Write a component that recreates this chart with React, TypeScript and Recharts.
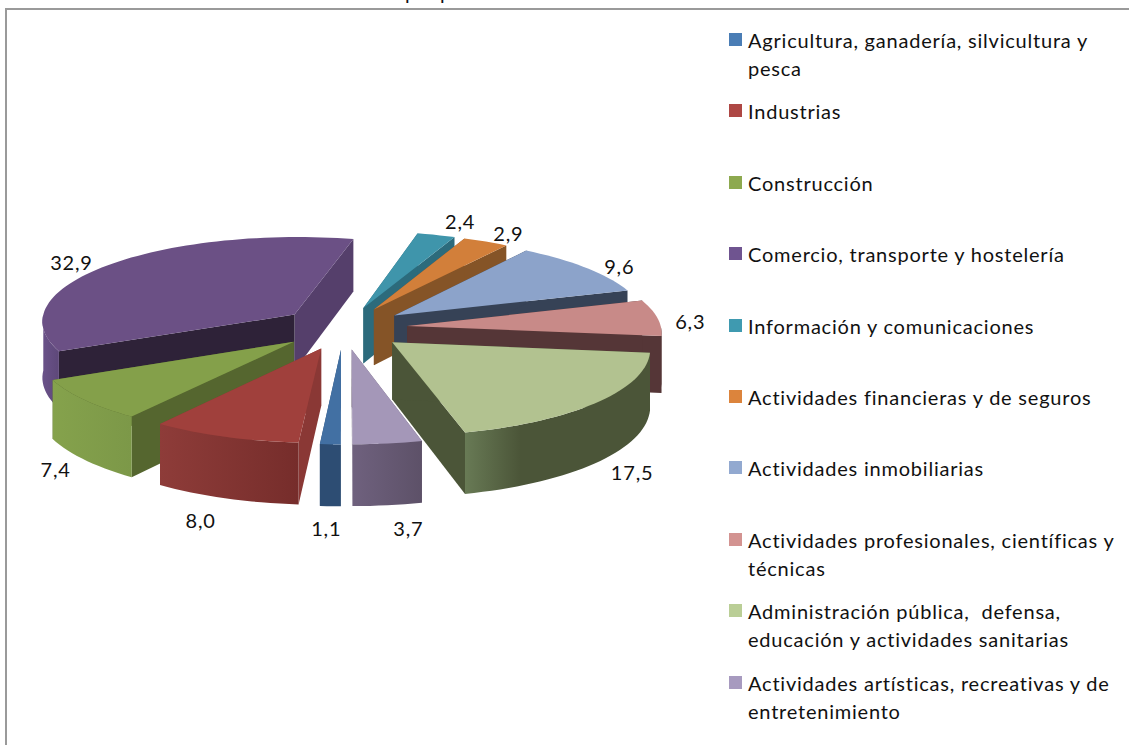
import { PieChart, Pie, Legend } from 'recharts';

// Share of each sector, legend order
const categories = [
  'Agricultura, ganadería, silvicultura y\npesca',
  'Industrias',
  'Construcción',
  'Comercio, transporte y hostelería',
  'Información y comunicaciones',
  'Actividades financieras y de seguros',
  'Actividades inmobiliarias',
  'Actividades profesionales, científicas y\ntécnicas',
  'Administración pública,  defensa,\neducación y actividades sanitarias',
  'Actividades artísticas, recreativas y de\nentretenimiento',
];
const shares = [1.1, 8.0, 7.4, 32.9, 2.4, 2.9, 9.6, 6.3, 17.5, 3.7];

// Colours per slice: top face, radial walls, outer wall gradient, legend swatch
const topColors = ['#4270A3', '#A0403C', '#84A04A', '#6B5085', '#3F95AB', '#D27F3A', '#8CA3CA', '#C88A88', '#B2C290', '#A497B8'];
const wallColors = ['#2D4D73', '#8A3835', '#55662F', '#2E2238', '#2C6B7C', '#855427', '#364256', '#553637', '#4B5538', '#6C5F78'];
const endWallColors = ['#2D4D73', '#8A3835', '#55662F', '#553F6B', '#2C6B7C', '#855427', '#364256', '#553637', '#4B5538', '#6C5F78'];
const arcFrom = ['#2D4D73', '#8E3C39', '#85A24C', '#6A5289', '#2C6B7C', '#855427', '#364256', '#553637', '#687A55', '#6F617E'];
const arcTo = ['#2D4D73', '#762D2B', '#7C9848', '#5E4879', '#2C6B7C', '#855427', '#364256', '#553637', '#4B5538', '#5D5168'];
const legendColors = ['#4A7DB5', '#AE4744', '#8DA94F', '#6F5490', '#3F9AB0', '#DC843C', '#92A9D0', '#D39391', '#BACE96', '#A79ABF'];

// Back-to-front painting order (indices into categories)
const drawOrder = [3, 4, 5, 6, 7, 8, 2, 1, 9, 0];

// Hand nudges for the value labels, legend order
const labelNudges = [
  [-3, 66], [-14, 67], [-7, 56], [-21, -5], [17, -14], [12, -9], [15, -4], [8, -3], [13, 56], [17, 67],
];

const pieData = categories.map((name, i) => ({ name, value: shares[i] }));

// Projection of the tilted pie
const CX = 343.5;
const CY = 328;
const RADIUS = 254;
const TILT = 0.334;
const PERSPECTIVE = 0.07;
const EXPLODE = 64;
const DEPTH = 56.5;

const rad = (d: number) => (d * Math.PI) / 180;

const project = (x: number, z: number, drop = 0) => {
  const s = 1 / (1 + (PERSPECTIVE * z) / RADIUS);
  return [CX + x * s, CY - z * TILT * s + drop * s];
};

// theta: clockwise from 12 o'clock, r: distance from the slice apex
const slicePoint = (mid: number, theta: number, r: number, drop = 0) =>
  project(
    EXPLODE * Math.sin(rad(mid)) + r * Math.sin(rad(theta)),
    EXPLODE * Math.cos(rad(mid)) + r * Math.cos(rad(theta)),
    drop,
  );

const toPath = (pts: number[][]) =>
  'M' + pts.map((p) => `${p[0].toFixed(1)},${p[1].toFixed(1)}`).join('L') + 'Z';

const arcPoints = (mid: number, from: number, to: number, r: number, drop = 0) => {
  const pts: number[][] = [];
  const steps = Math.max(2, Math.ceil((to - from) / 2));
  for (let i = 0; i <= steps; i++) {
    pts.push(slicePoint(mid, from + ((to - from) * i) / steps, r, drop));
  }
  return pts;
};

const Slice3D = (props: any, idx: number) => {
  const { startAngle, endAngle, outerRadius, index } = props;
  if (index !== idx) return <g />;
  // recharts angles run counter-clockwise from 3 o'clock
  const t0 = 90 - startAngle + 360;
  const t1 = 90 - endAngle + 360;
  const mid = (t0 + t1) / 2;
  const r = outerRadius;
  const apexTop = slicePoint(mid, 0, 0);
  const apexBot = slicePoint(mid, 0, 0, DEPTH);
  const wall = (t: number, color: string) => (
    <path
      d={toPath([apexTop, slicePoint(mid, t, r), slicePoint(mid, t, r, DEPTH), apexBot])}
      fill={color}
    />
  );
  // only the part of the rim that faces the viewer
  const rim = [];
  for (const shift of [0, 360]) {
    const a = Math.max(t0 + shift, 450);
    const b = Math.min(t1 + shift, 630);
    if (b > a) rim.push([a, b]);
  }
  return (
    <g>
      <defs>
        <linearGradient id={`rim-${idx}`} x1="0" y1="0" x2="1" y2="0">
          <stop offset="0%" stopColor={arcFrom[idx]} />
          <stop offset={idx === 8 ? '30%' : '100%'} stopColor={arcTo[idx]} />
        </linearGradient>
      </defs>
      {wall(t1, endWallColors[idx])}
      {wall(t0, wallColors[idx])}
      {rim.map(([a, b], k) => (
        <path
          key={k}
          d={toPath([...arcPoints(mid, a, b, r), ...arcPoints(mid, a, b, r, DEPTH).reverse()])}
          fill={`url(#rim-${idx})`}
        />
      ))}
      <path d={toPath([apexTop, ...arcPoints(mid, t0, t1, r)])} fill={topColors[idx]} />
    </g>
  );
};

const renderLabel = (props: any) => {
  const { value, midAngle, index } = props;
  const mid = 90 - midAngle;
  const [x, y] = slicePoint(mid, mid, RADIUS * 1.1);
  return (
    <text
      key={index}
      x={x + labelNudges[index][0]}
      y={y + 10 + labelNudges[index][1]}
      textAnchor="middle"
      dominantBaseline="middle"
      fontFamily="Lato, sans-serif"
      fontSize={20}
      letterSpacing={0.8}
      fill="#111"
    >
      {value.toFixed(1).replace('.', ',')}
    </text>
  );
};

const LegendBox = () => (
  <div style={{ position: 'relative', width: 400, height: 720 }}>
    {categories.map((name, i) => (
      <div key={name} style={{ position: 'absolute', left: 0, top: i * 71.4, display: 'flex' }}>
        <span
          style={{ width: 13, height: 13, marginTop: 7, marginRight: 6, background: legendColors[i], flex: 'none' }}
        />
        <span style={{ fontFamily: 'Lato, sans-serif', fontSize: 20, letterSpacing: 0.78, lineHeight: '28px', color: '#111', whiteSpace: 'pre' }}>
          {name}
        </span>
      </div>
    ))}
  </div>
);

export default function App() {
  return (
    <div style={{ position: 'absolute', left: 0, top: 0, width: 1129, height: 745, overflow: 'hidden', background: '#fff' }}>
      <div style={{ position: 'absolute', left: 5, top: 8, width: 1200, height: 800, border: '2px solid #9a9a9a' }} />
      {/* title is cropped by the page edge: only two descenders show */}
      <div style={{ position: 'absolute', left: 405, top: -22, fontFamily: 'Lato, sans-serif', fontSize: 20, lineHeight: '28px', color: '#111' }}>p</div>
      <div style={{ position: 'absolute', left: 440, top: -22, fontFamily: 'Lato, sans-serif', fontSize: 20, lineHeight: '28px', color: '#111' }}>p</div>
      <PieChart width={1129} height={745} style={{ position: 'absolute', left: 0, top: 0 }}>
        {drawOrder.map((idx, layer) => (
          <Pie
            key={idx}
            data={pieData}
            dataKey="value"
            nameKey="name"
            cx={CX}
            cy={CY}
            outerRadius={RADIUS}
            startAngle={270}
            endAngle={-90}
            stroke="none"
            isAnimationActive={false}
            legendType="none"
            labelLine={false}
            label={layer === drawOrder.length - 1 ? renderLabel : false}
            shape={(p: any) => Slice3D(p, idx)}
          />
        ))}
        <Legend
          content={LegendBox}
          wrapperStyle={{ position: 'absolute', left: 729, top: 26, width: 400, height: 720 }}
        />
      </PieChart>
    </div>
  );
}
